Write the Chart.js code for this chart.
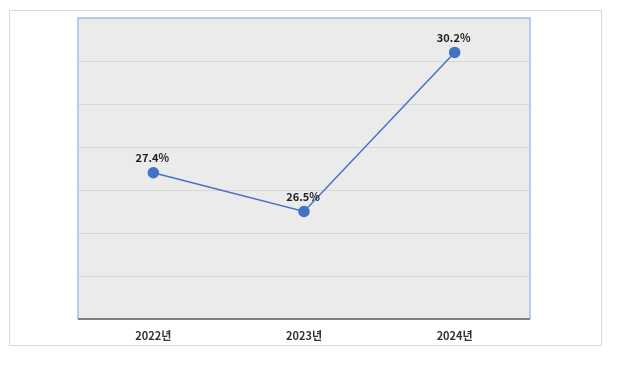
<!DOCTYPE html>
<html>
<head>
<meta charset="utf-8">
<script src="https://cdn.jsdelivr.net/npm/chart.js@4"></script>
<style>
  html, body { margin: 0; padding: 0; background: #fff; }
  #wrap { position: relative; width: 641px; height: 388px; }
  #box { position: absolute; left: 9px; top: 10px; width: 591px; height: 334px; border: 1px solid #d9d9d9; }
  #c { position: absolute; left: 0; top: 0; }
</style>
</head>
<body>
<div id="wrap">
  <div id="box"></div>
  <canvas id="c" width="641" height="388"></canvas>
</div>
<script>
const years = ["2022년", "2023년", "2024년"];
const rates = [27.4, 26.5, 30.2];
const yMin = 24;
const yMax = 31;

const plotFrame = {
  id: "plotFrame",
  beforeDraw(chart) {
    const { ctx, chartArea: a } = chart;
    ctx.save();
    ctx.fillStyle = "#ebebeb";
    ctx.fillRect(a.left, a.top, a.right - a.left, a.bottom - a.top);
    ctx.restore();
  },
  afterDatasetsDraw(chart) {
    const { ctx, chartArea: a } = chart;
    ctx.save();
    ctx.strokeStyle = "#a9bdf0";
    ctx.lineWidth = 1.5;
    ctx.beginPath();
    ctx.moveTo(a.left, a.bottom);
    ctx.lineTo(a.left, a.top);
    ctx.lineTo(a.right, a.top);
    ctx.lineTo(a.right, a.bottom);
    ctx.stroke();
    ctx.strokeStyle = "#7f7f7f";
    ctx.lineWidth = 2;
    ctx.beginPath();
    ctx.moveTo(a.left, a.bottom);
    ctx.lineTo(a.right, a.bottom);
    ctx.stroke();
    // value labels
    const meta = chart.getDatasetMeta(0);
    ctx.fillStyle = "#222";
    ctx.font = "bold 11px 'Noto Sans CJK KR', 'Noto Sans', sans-serif";
    ctx.textAlign = "center";
    ctx.textBaseline = "middle";
    meta.data.forEach((pt, i) => {
      ctx.fillText(rates[i].toFixed(1) + "%", pt.x - 1, pt.y - 15);
    });
    ctx.restore();
  }
};

new Chart(document.getElementById("c"), {
  type: "line",
  data: {
    labels: years,
    datasets: [{
      data: rates,
      borderColor: "#4472c4",
      backgroundColor: "#4472c4",
      borderWidth: 1.5,
      pointRadius: 5,
      pointHoverRadius: 5,
      tension: 0
    }]
  },
  options: {
    responsive: false,
    animation: false,
    events: [],
    layout: { padding: { left: 78, right: 111, top: 18, bottom: 0 } },
    plugins: { legend: { display: false }, tooltip: { enabled: false } },
    scales: {
      x: {
        offset: true,
        grid: { display: false, drawTicks: false },
        border: { display: false },
        ticks: {
          padding: 10,
          color: "#333",
          font: { family: "'Noto Sans CJK KR', sans-serif", size: 11, weight: "bold" }
        },
        afterFit(s) { s.height = 69; }
      },
      y: {
        min: yMin,
        max: yMax,
        ticks: { display: false, stepSize: 1 },
        grid: { color: "#d6d6d6", drawTicks: false },
        border: { display: false },
        afterFit(s) { s.width = 0; }
      }
    }
  },
  plugins: [plotFrame]
});
</script>
</body>
</html>
